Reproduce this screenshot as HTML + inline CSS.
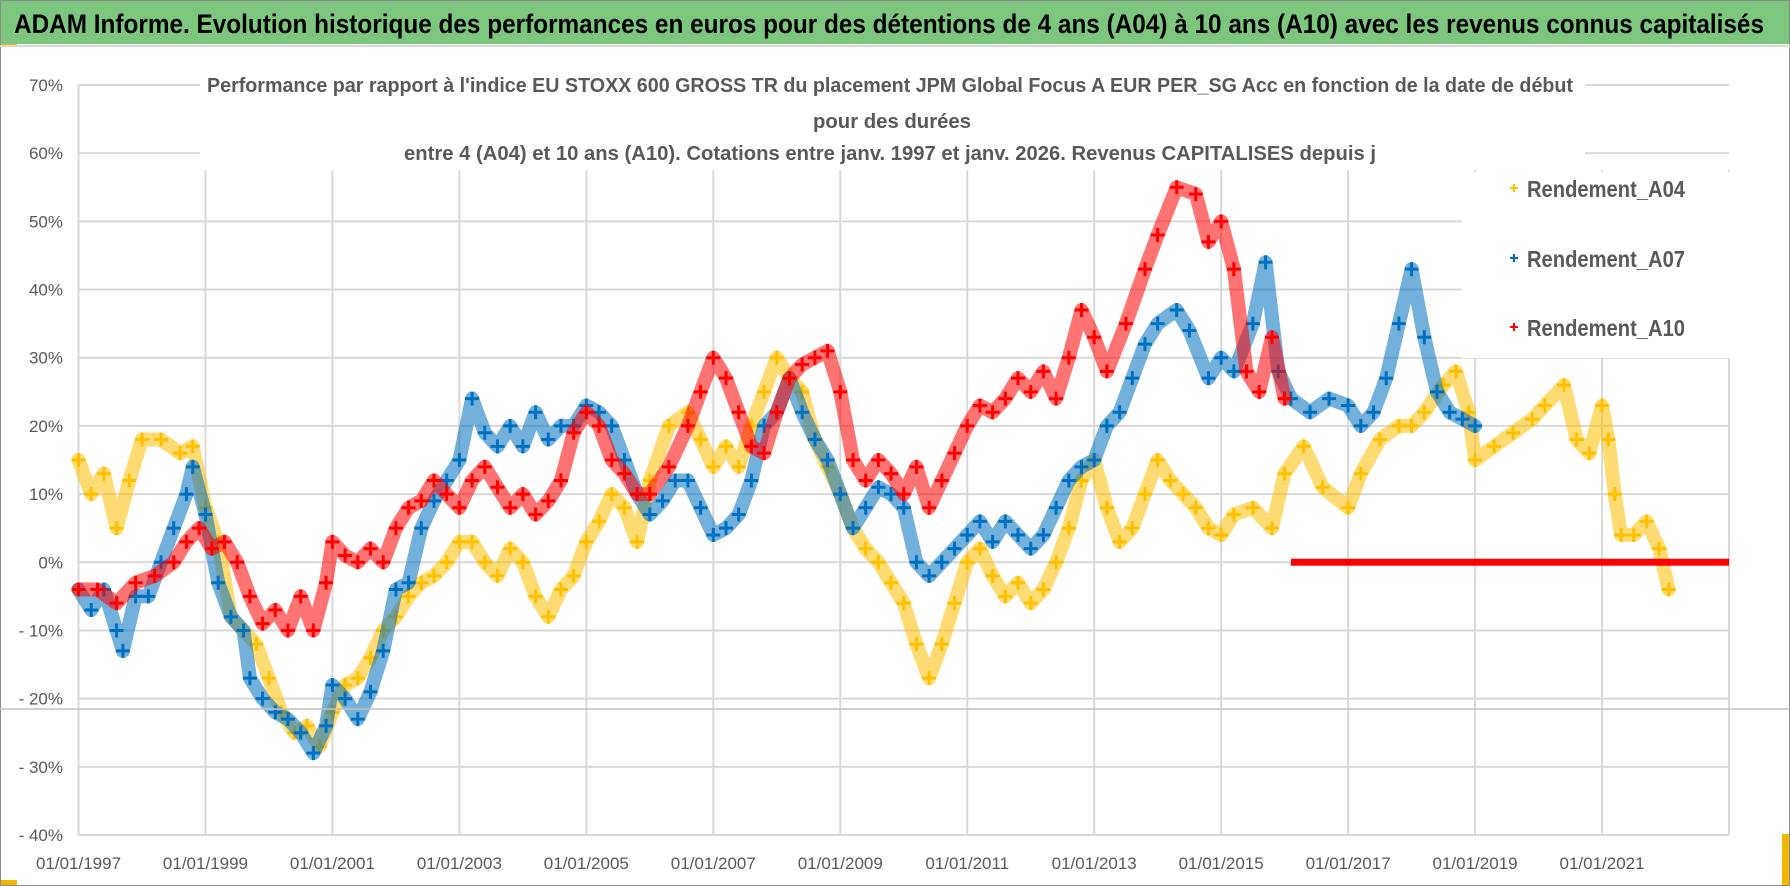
<!DOCTYPE html>
<html><head><meta charset="utf-8">
<style>
html,body{margin:0;padding:0;background:#fff;}
svg{display:block;}
</style></head>
<body>
<svg id="chart" width="1790" height="886" viewBox="0 0 1790 886" xmlns="http://www.w3.org/2000/svg">
  <rect x="0" y="0" width="1790" height="886" fill="#fff"/>
  <rect x="0" y="0" width="1790" height="44" fill="#7DC67E"/>
  <text x="14" y="33" font-family="Liberation Sans, sans-serif" font-weight="bold" font-size="27" fill="#000" textLength="1750" lengthAdjust="spacingAndGlyphs">ADAM Informe. Evolution historique des performances en euros pour des détentions de 4 ans (A04) à 10 ans (A10) avec les revenus connus capitalisés</text>
  <rect x="0" y="44" width="17" height="3" fill="#F2B800"/>
  <rect x="0" y="880" width="17" height="6" fill="#F2B800"/>
  <rect x="1782" y="834" width="8" height="52" fill="#F2B800"/>
  <rect x="0.5" y="0.5" width="1789" height="885" fill="none" stroke="#8c8c8c" stroke-width="1"/>
  <line x1="0" y1="46" x2="1790" y2="46" stroke="#d9d9d9" stroke-width="2"/>
  <g id="grid"></g>
  <g id="marks"></g>
  <line x1="0" y1="709" x2="1790" y2="709" stroke="#c0c0c0" stroke-width="1.5"/>
  <rect x="200" y="64" width="1385" height="104" fill="#fff"/>
  <g font-family="Liberation Sans, sans-serif" font-weight="bold" font-size="20" fill="#595959">
    <text x="207" y="92" textLength="1366" lengthAdjust="spacingAndGlyphs">Performance par rapport à l'indice EU STOXX 600 GROSS TR  du placement JPM Global Focus A EUR PER_SG Acc en fonction de la date de début</text>
    <text x="813" y="128" textLength="158" lengthAdjust="spacingAndGlyphs">pour des durées</text>
    <text x="404" y="160" textLength="972" lengthAdjust="spacingAndGlyphs">entre 4 (A04) et 10 ans (A10). Cotations entre janv. 1997 et janv. 2026. Revenus CAPITALISES depuis j</text>
  </g>
  <rect x="1462" y="172" width="268" height="186" fill="#fff"/>
  <g id="legend" font-family="Liberation Sans, sans-serif" font-weight="bold" font-size="23" fill="#595959"></g>
  <g id="yaxis" font-family="Liberation Sans, sans-serif" font-size="17" fill="#595959"></g>
  <g id="xaxis" font-family="Liberation Sans, sans-serif" font-size="17" fill="#595959"></g>
</svg>
<script>
// ---- data ----
const yTicks = [70,60,50,40,30,20,10,0,-10,-20,-30,-40];
const yTickLabels = ["70%","60%","50%","40%","30%","20%","10%","0%","- 10%","- 20%","- 30%","- 40%"];
const xTickYears = [1997,1999,2001,2003,2005,2007,2009,2011,2013,2015,2017,2019,2021,2023];
const xTickLabels = ["01/01/1997","01/01/1999","01/01/2001","01/01/2003","01/01/2005","01/01/2007","01/01/2009","01/01/2011","01/01/2013","01/01/2015","01/01/2017","01/01/2019","01/01/2021",""];
const seriesNames = ["Rendement_A04","Rendement_A07","Rendement_A10"];

const a04Dates = [1997.0,1997.2,1997.4,1997.6,1997.8,1998.0,1998.3,1998.6,1998.8,1999.0,1999.2,1999.4,1999.6,1999.8,2000.0,2000.2,2000.4,2000.6,2000.8,2001.0,2001.2,2001.4,2001.6,2001.8,2002.0,2002.2,2002.4,2002.6,2002.8,2003.0,2003.2,2003.4,2003.6,2003.8,2004.0,2004.2,2004.4,2004.6,2004.8,2005.0,2005.2,2005.4,2005.6,2005.8,2006.0,2006.3,2006.6,2006.8,2007.0,2007.2,2007.4,2007.6,2007.8,2008.0,2008.2,2008.4,2008.6,2008.8,2009.0,2009.2,2009.4,2009.6,2009.8,2010.0,2010.2,2010.4,2010.6,2010.8,2011.0,2011.2,2011.4,2011.6,2011.8,2012.0,2012.2,2012.4,2012.6,2012.8,2013.0,2013.2,2013.4,2013.6,2013.8,2014.0,2014.2,2014.4,2014.6,2014.8,2015.0,2015.2,2015.5,2015.8,2016.0,2016.3,2016.6,2017.0,2017.2,2017.5,2017.8,2018.0,2018.2,2018.5,2018.7,2018.9,2019.0,2019.3,2019.6,2019.9,2020.1,2020.4,2020.6,2020.8,2021.0,2021.1,2021.2,2021.3,2021.5,2021.7,2021.9,2022.05];
const a04Values = [15,10,13,5,12,18,18,16,17,8,3,-8,-10,-12,-17,-22,-25,-24,-27,-22,-18,-17,-14,-10,-8,-5,-3,-2,0,3,3,0,-2,2,0,-5,-8,-4,-2,3,6,10,8,3,12,20,22,18,14,17,14,20,25,30,27,25,18,14,10,5,2,0,-3,-6,-12,-17,-12,-6,0,2,-2,-5,-3,-6,-4,0,5,12,15,8,3,5,10,15,12,10,8,5,4,7,8,5,13,17,11,8,13,18,20,20,22,26,28,22,15,17,19,21,23,26,18,16,23,18,10,4,4,6,2,-4];

const a07Dates = [1997.0,1997.2,1997.4,1997.6,1997.7,1997.9,1998.1,1998.3,1998.5,1998.7,1998.8,1999.0,1999.2,1999.4,1999.6,1999.7,1999.9,2000.1,2000.3,2000.5,2000.7,2000.9,2001.0,2001.2,2001.4,2001.6,2001.8,2002.0,2002.2,2002.4,2002.6,2002.8,2003.0,2003.2,2003.4,2003.6,2003.8,2004.0,2004.2,2004.4,2004.6,2004.8,2005.0,2005.2,2005.4,2005.6,2005.8,2006.0,2006.2,2006.4,2006.6,2006.8,2007.0,2007.2,2007.4,2007.6,2007.8,2008.0,2008.2,2008.4,2008.6,2008.8,2009.0,2009.2,2009.4,2009.6,2009.8,2010.0,2010.2,2010.4,2010.6,2010.8,2011.0,2011.2,2011.4,2011.6,2011.8,2012.0,2012.2,2012.4,2012.6,2012.8,2013.0,2013.2,2013.4,2013.6,2013.8,2014.0,2014.3,2014.5,2014.8,2015.0,2015.2,2015.5,2015.7,2015.9,2016.1,2016.4,2016.7,2017.0,2017.2,2017.4,2017.6,2017.8,2018.0,2018.2,2018.4,2018.6,2018.8,2019.0];
const a07Values = [-4,-7,-4,-10,-13,-5,-5,0,5,10,14,7,-3,-8,-10,-17,-20,-22,-23,-25,-28,-24,-18,-20,-23,-19,-13,-4,-3,5,9,12,15,24,19,17,20,17,22,18,20,20,23,22,20,15,10,7,9,12,12,8,4,5,7,12,20,22,27,22,18,15,10,5,8,11,10,8,0,-2,0,2,4,6,3,6,4,2,4,8,12,14,15,20,22,27,32,35,37,34,27,30,28,35,44,28,24,22,24,23,20,22,27,35,43,33,25,22,21,20,15];

const a10Dates = [1997.0,1997.3,1997.6,1997.9,1998.2,1998.5,1998.7,1998.9,1999.1,1999.3,1999.5,1999.7,1999.9,2000.1,2000.3,2000.5,2000.7,2000.9,2001.0,2001.2,2001.4,2001.6,2001.8,2002.0,2002.2,2002.4,2002.6,2002.8,2003.0,2003.2,2003.4,2003.6,2003.8,2004.0,2004.2,2004.4,2004.6,2004.8,2005.0,2005.2,2005.4,2005.6,2005.8,2006.0,2006.3,2006.6,2006.8,2007.0,2007.2,2007.4,2007.6,2007.8,2008.0,2008.2,2008.4,2008.6,2008.8,2009.0,2009.2,2009.4,2009.6,2009.8,2010.0,2010.2,2010.4,2010.6,2010.8,2011.0,2011.2,2011.4,2011.6,2011.8,2012.0,2012.2,2012.4,2012.6,2012.8,2013.0,2013.2,2013.5,2013.8,2014.0,2014.3,2014.6,2014.8,2015.0,2015.2,2015.4,2015.6,2015.8,2016.0];
const a10Values = [-4,-4,-6,-3,-2,0,3,5,2,3,0,-5,-9,-7,-10,-5,-10,-3,3,1,0,2,0,5,8,9,12,10,8,12,14,11,8,10,7,9,12,19,22,20,15,13,10,10,14,20,25,30,27,22,17,16,22,27,29,30,31,25,15,12,15,13,10,14,8,12,16,20,23,22,24,27,25,28,24,30,37,33,28,35,43,48,55,54,47,50,43,28,25,33,24];
// A10 flat-at-zero segment (no capitalised income yet)
const a10ZeroStart = 2016.1;
const a10ZeroEnd = 2023.0;
const a10ZeroValue = 0;

// ---- axes ----
const X0 = 78.5, X1 = 1729, YEAR0 = 1997, YEAR1 = 2023;
const Y_TOP = 85, Y_BOT = 835, V_TOP = 70, V_BOT = -40;
function xScale(yr){ return X0 + (yr - YEAR0) * (X1 - X0) / (YEAR1 - YEAR0); }
function yScale(v){ return Y_TOP + (V_TOP - v) * (Y_BOT - Y_TOP) / (V_TOP - V_BOT); }

const NS = "http://www.w3.org/2000/svg";
function mk(tag, attrs, parent){
  const el = document.createElementNS(NS, tag);
  for (const k in attrs) el.setAttribute(k, attrs[k]);
  parent.appendChild(el);
  return el;
}
const grid = document.getElementById('grid');
const marks = document.getElementById('marks');
const yaxis = document.getElementById('yaxis');
const xaxis = document.getElementById('xaxis');
const legend = document.getElementById('legend');

yTicks.forEach((v, i) => {
  const y = yScale(v);
  const gl = mk('line', {x1: X0, x2: X1, y1: y, y2: y, stroke: '#d9d9d9', 'stroke-width': 2}, grid);
  
  
  const t = mk('text', {x: 63, y: y + 6, 'text-anchor': 'end'}, yaxis);
  t.textContent = yTickLabels[i];
  
  
});
xTickYears.forEach((yr, i) => {
  const x = xScale(yr);
  const gl = mk('line', {x1: x, x2: x, y1: (i === 0 ? Y_TOP : 170), y2: Y_BOT, stroke: '#d9d9d9', 'stroke-width': 2}, grid);
  
  
  if (xTickLabels[i]) {
    const t = mk('text', {x: x, y: 869, 'text-anchor': 'middle'}, xaxis);
    t.textContent = xTickLabels[i];
    
    
  }
});

function cross(x, y, color, s, w, parent){
  return mk('path', {d: `M${x - s} ${y}H${x + s}M${x} ${y - s}V${y + s}`, stroke: color, 'stroke-width': w, fill: 'none'}, parent);
}
function drawSeries(dates, values, color, name){
  const g = mk('g', {}, marks);
  
  
  const pts = dates.map((d, i) => xScale(d).toFixed(1) + ',' + yScale(values[i]).toFixed(1)).join(' ');
  const band = mk('polyline', {points: pts, fill: 'none', stroke: color, 'stroke-width': 14, 'stroke-linejoin': 'round', 'stroke-linecap': 'round', opacity: 0.55}, g);
  
  
  for (let i = 0; i < dates.length; i++) {
    const p = cross(xScale(dates[i]), yScale(values[i]), color, 7, 3, g);
    
    
  }
  return g;
}
const COLORS = ['#FFC000', '#0070C0', '#FF0000'];
drawSeries(a04Dates, a04Values, COLORS[0], 'series-a04');
drawSeries(a07Dates, a07Values, COLORS[1], 'series-a07');
const g10 = drawSeries(a10Dates, a10Values, COLORS[2], 'series-a10');
const zeroSeg = mk('line', {x1: xScale(a10ZeroStart), x2: xScale(a10ZeroEnd), y1: yScale(a10ZeroValue), y2: yScale(a10ZeroValue), stroke: COLORS[2], 'stroke-width': 7}, g10);



const legendY = [188, 258, 327];
seriesNames.forEach((nm, i) => {
  const m = cross(1514, legendY[i], COLORS[i], 4, 2, legend);
  
  
  const t = mk('text', {x: 1527, y: legendY[i] + 9, textLength: 158, lengthAdjust: 'spacingAndGlyphs'}, legend);
  t.textContent = nm;
  
  
});
</script>
</body></html>
